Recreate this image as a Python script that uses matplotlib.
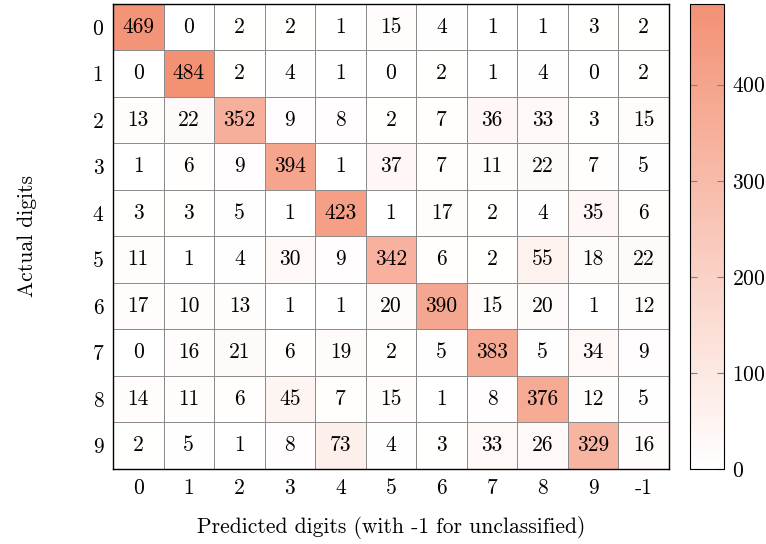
import matplotlib
matplotlib.use("Agg")
import matplotlib.pyplot as plt
import numpy as np
from matplotlib.colors import LinearSegmentedColormap

plt.rcParams["font.family"] = "serif"
plt.rcParams["font.serif"] = ["cmr10"]
plt.rcParams["mathtext.fontset"] = "cm"
plt.rcParams["axes.formatter.use_mathtext"] = True

# confusion matrix: rows = actual digit, columns = predicted (-1 = unclassified)
actual_labels = ["0", "1", "2", "3", "4", "5", "6", "7", "8", "9"]
predicted_labels = ["0", "1", "2", "3", "4", "5", "6", "7", "8", "9", "-1"]
counts = [
    [469, 0, 2, 2, 1, 15, 4, 1, 1, 3, 2],
    [0, 484, 2, 4, 1, 0, 2, 1, 4, 0, 2],
    [13, 22, 352, 9, 8, 2, 7, 36, 33, 3, 15],
    [1, 6, 9, 394, 1, 37, 7, 11, 22, 7, 5],
    [3, 3, 5, 1, 423, 1, 17, 2, 4, 35, 6],
    [11, 1, 4, 30, 9, 342, 6, 2, 55, 18, 22],
    [17, 10, 13, 1, 1, 20, 390, 15, 20, 1, 12],
    [0, 16, 21, 6, 19, 2, 5, 383, 5, 34, 9],
    [14, 11, 6, 45, 7, 15, 1, 8, 376, 12, 5],
    [2, 5, 1, 8, 73, 4, 3, 33, 26, 329, 16],
]
cbar_ticks = [0, 100, 200, 300, 400]

cm = np.array(counts)
cmap = LinearSegmentedColormap.from_list("salmon", ["#ffffff", "#f39175"])
fs = 15.5

fig = plt.figure(figsize=(7.66, 5.44), dpi=100)
ax = fig.add_axes([0.1475, 0.1379, 0.7258, 0.8548])
cax = fig.add_axes([0.9008, 0.1379, 0.0444, 0.8548])

mesh = ax.pcolormesh(cm, cmap=cmap, vmin=0, vmax=cm.max(),
                     edgecolor="#8c8c8c", linewidth=0.6)
ax.set_xlim(0, cm.shape[1])
ax.set_ylim(cm.shape[0], 0)

for i in range(cm.shape[0]):
    for j in range(cm.shape[1]):
        ax.text(j + 0.5, i + 0.5, str(cm[i, j]), ha="center", va="center",
                fontsize=fs)

ax.set_xticks(np.arange(cm.shape[1]) + 0.5)
ax.set_xticklabels(predicted_labels, fontsize=fs)
ax.set_yticks(np.arange(cm.shape[0]) + 0.5)
ax.set_yticklabels(actual_labels, fontsize=fs)
ax.tick_params(length=0, pad=7)
for s in ax.spines.values():
    s.set_linewidth(1.0)

ax.set_xlabel("Predicted digits (with -1 for unclassified)", fontsize=fs, labelpad=13)
ax.set_ylabel("Actual digits", fontsize=fs, labelpad=40)

cb = fig.colorbar(mesh, cax=cax, ticks=cbar_ticks)
cb.outline.set_linewidth(0.8)
cb.ax.tick_params(labelsize=fs, direction="in", length=5,
                  color="#808080", width=0.8, pad=6)
cb.ax.yaxis.set_tick_params(left=True, labelleft=False)

fig.savefig("out.png", dpi=100)
